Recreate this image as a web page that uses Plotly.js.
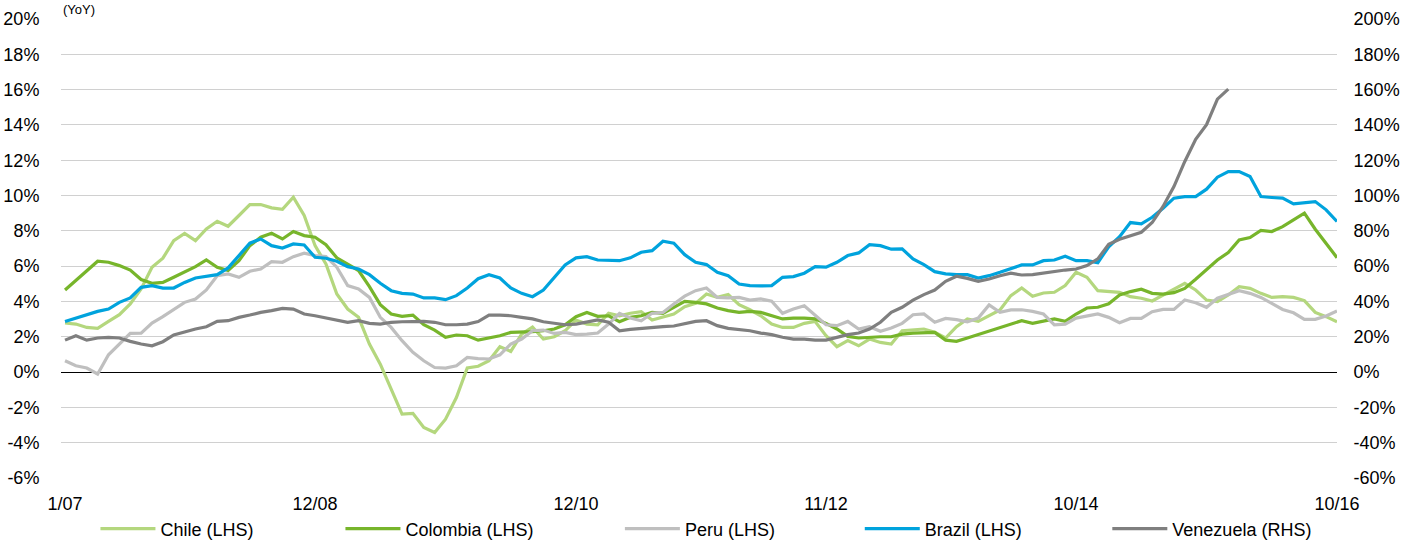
<!DOCTYPE html>
<html>
<head>
<meta charset="utf-8">
<script src="https://cdn.plot.ly/plotly-3.0.1.min.js"></script>
<style>
  html, body { margin: 0; padding: 0; background: #ffffff; }
  #chart { width: 1419px; height: 543px; }
</style>
</head>
<body>
<div id="chart"></div>
<script>
// ---------- Data (monthly, 1/07 .. 10/16) ----------
const startYear = 2007;
const startMonth = 1;
const monthCount = 118;

const tickLabels = ["1/07", "12/08", "12/10", "11/12", "10/14", "10/16"];
const leftTicks = [-6, -4, -2, 0, 2, 4, 6, 8, 10, 12, 14, 16, 18, 20];
const leftTickText = ["-6%", "-4%", "-2%", "0%", "2%", "4%", "6%", "8%", "10%", "12%", "14%", "16%", "18%", "20%"];
const rightTicks = [-60, -40, -20, 0, 20, 40, 60, 80, 100, 120, 140, 160, 180, 200];
const rightTickText = ["-60%", "-40%", "-20%", "0%", "20%", "40%", "60%", "80%", "100%", "120%", "140%", "160%", "180%", "200%"];

const chile = [2.78,2.72,2.53,2.48,2.87,3.25,3.86,4.71,5.94,6.45,7.45,7.86,7.45,8.11,8.54,8.26,8.87,9.49,9.49,9.3,
  9.22,9.9,8.87,7.16,6.12,4.42,3.57,3.1,1.59,0.45,-0.96,-2.38,-2.34,-3.14,-3.42,-2.67,-1.44,0.23,0.33,0.64,
  1.44,1.17,2.15,2.55,1.87,2.0,2.34,2.95,2.72,2.68,3.33,3.19,3.33,3.42,2.95,3.14,3.29,3.7,3.89,4.42,
  4.23,4.39,3.82,3.53,3.19,2.72,2.53,2.53,2.76,2.87,2.06,1.44,1.78,1.49,1.87,1.68,1.59,2.34,2.38,2.44,
  2.25,1.93,2.57,3.01,2.87,3.19,3.52,4.33,4.76,4.29,4.48,4.52,4.9,5.65,5.37,4.61,4.55,4.52,4.27,4.18,
  4.03,4.37,4.69,5.03,4.65,4.08,3.99,4.37,4.84,4.74,4.46,4.23,4.27,4.23,4.05,3.38,3.14,2.85];

const colombia = [4.65,5.18,5.75,6.28,6.22,6.03,5.78,5.24,5.03,5.08,5.37,5.65,5.97,6.35,5.94,5.75,6.31,7.16,7.64,7.86,
  7.54,7.96,7.73,7.64,7.22,6.47,6.12,5.75,4.84,3.82,3.29,3.16,3.23,2.68,2.38,1.97,2.1,2.06,1.81,1.93,
  2.06,2.25,2.25,2.29,2.34,2.44,2.68,3.14,3.38,3.16,3.19,2.85,3.1,3.19,3.38,3.33,3.67,4.01,3.95,3.86,
  3.63,3.48,3.38,3.44,3.38,3.19,3.01,3.06,3.06,3.01,2.76,2.44,2.02,1.93,1.97,2.0,2.0,2.15,2.21,2.25,
  2.25,1.81,1.74,1.93,2.12,2.31,2.53,2.72,2.91,2.76,2.87,3.01,2.87,3.29,3.63,3.67,3.87,4.37,4.56,4.69,
  4.46,4.42,4.5,4.74,5.26,5.82,6.35,6.77,7.49,7.62,8.02,7.96,8.24,8.62,9.0,8.09,7.3,6.48];

const peru = [0.64,0.36,0.23,-0.11,0.98,1.59,2.19,2.21,2.78,3.14,3.57,3.95,4.14,4.65,5.46,5.56,5.37,5.71,5.84,6.26,
  6.22,6.54,6.73,6.6,6.54,5.94,4.9,4.71,4.23,3.1,2.53,1.78,1.12,0.64,0.26,0.23,0.36,0.83,0.76,0.74,
  0.98,1.59,1.87,2.34,2.38,2.19,2.25,2.12,2.15,2.21,2.72,3.33,3.06,2.91,3.33,3.38,3.86,4.3,4.61,4.76,
  4.23,4.2,4.23,4.08,4.14,4.01,3.33,3.57,3.76,3.19,2.68,2.63,2.87,2.44,2.57,2.31,2.5,2.76,3.25,3.29,
  2.82,3.04,2.97,2.85,3.06,3.8,3.38,3.52,3.53,3.44,3.29,2.67,2.72,3.06,3.19,3.29,3.1,2.8,3.04,3.04,
  3.42,3.55,3.55,4.08,3.93,3.67,4.18,4.4,4.61,4.46,4.23,3.89,3.55,3.36,2.99,2.99,3.18,3.46];

const brazil = [2.87,3.06,3.29,3.44,3.57,3.95,4.2,4.8,4.9,4.76,4.76,5.08,5.33,5.43,5.52,5.9,6.6,7.3,7.54,7.16,
  7.03,7.26,7.2,6.5,6.45,6.28,5.97,5.84,5.52,5.03,4.61,4.46,4.42,4.2,4.2,4.1,4.33,4.76,5.29,5.52,
  5.33,4.76,4.46,4.27,4.65,5.37,6.07,6.47,6.54,6.35,6.31,6.31,6.47,6.79,6.88,7.41,7.3,6.65,6.22,6.09,
  5.65,5.46,4.99,4.9,4.88,4.9,5.37,5.41,5.6,5.97,5.94,6.22,6.6,6.75,7.22,7.16,6.96,6.98,6.41,6.09,
  5.69,5.56,5.52,5.52,5.33,5.46,5.65,5.84,6.07,6.07,6.31,6.35,6.56,6.31,6.31,6.2,7.1,7.67,8.47,8.39,
  8.77,9.28,9.85,9.94,9.94,10.36,11.04,11.36,11.36,11.08,9.94,9.89,9.85,9.53,9.6,9.66,9.19,8.53];

// Venezuela on right-hand scale (%)
const venezuela = [18.1,20.6,18.1,19.3,19.7,19.3,17.4,15.9,14.9,17.2,21.0,22.9,24.4,25.7,28.7,29.1,31.0,32.3,33.8,34.8,
  36.1,35.7,32.9,31.9,30.6,29.5,28.2,29.1,27.6,27.2,28.2,28.5,28.7,28.7,28.2,26.8,26.8,27.2,28.6,32.3,
  32.3,31.9,31.0,30.1,28.5,27.6,26.8,27.2,28.5,29.5,28.2,23.4,24.2,24.8,25.3,25.7,26.1,27.6,28.7,29.1,
  26.3,24.8,24.0,23.4,22.1,21.2,19.7,18.7,18.7,18.1,18.1,19.7,21.2,22.1,24.4,28.2,33.8,36.7,40.8,43.9,
  46.5,51.4,54.3,53.1,51.4,52.7,54.6,56.0,55.0,55.2,56.1,57.1,57.8,58.4,60.3,64.1,72.4,75.2,77.3,79.2,
  84.7,93.8,105.1,119.3,131.9,140.1,154.6,160.3];

// ---------- Categories (month labels like "1/07") ----------
const months = [];
for (let k = 0; k < monthCount; k++) {
  const m = (startMonth - 1 + k) % 12 + 1;
  const y = startYear + Math.floor((startMonth - 1 + k) / 12);
  months.push(m + "/" + String(y % 100).padStart(2, "0"));
}

// ---------- Styling ----------
const FONT = "Arial, 'Liberation Sans', sans-serif";
const series = [
  {name: "Chile (LHS)",     y: chile,     color: "#B4D77E", axis: "y",  legend: "legend"},
  {name: "Colombia (LHS)",  y: colombia,  color: "#77B52B", axis: "y",  legend: "legend2"},
  {name: "Peru (LHS)",      y: peru,      color: "#BFBFBF", axis: "y",  legend: "legend3"},
  {name: "Brazil (LHS)",    y: brazil,    color: "#00A3DD", axis: "y",  legend: "legend4"},
  {name: "Venezuela (RHS)", y: venezuela, color: "#7F7F7F", axis: "y2", legend: "legend5"}
];

const traces = series.map(s => ({
  type: "scatter",
  mode: "lines",
  name: s.name,
  x: months.slice(0, s.y.length),
  y: s.y,
  yaxis: s.axis,
  legend: s.legend,
  line: {color: s.color, width: 3.2},
  hoverinfo: "skip"
}));

// legend item starting positions (paper fractions)
const legendX = [0.027, 0.219, 0.438, 0.626, 0.820];
function legendDef(x) {
  return {
    orientation: "h", x: x, xanchor: "left", y: -0.111, yanchor: "middle",
    font: {family: FONT, size: 18, color: "#000000"},
    bgcolor: "rgba(0,0,0,0)", borderwidth: 0, itemwidth: 55
  };
}

const layout = {
  width: 1419,
  height: 543,
  margin: {l: 61, r: 82, t: 19, b: 65, pad: 0, autoexpand: false},
  paper_bgcolor: "#ffffff",
  plot_bgcolor: "#ffffff",
  font: {family: FONT, size: 18, color: "#000000"},
  showlegend: true,
  legend: legendDef(legendX[0]),
  legend2: legendDef(legendX[1]),
  legend3: legendDef(legendX[2]),
  legend4: legendDef(legendX[3]),
  legend5: legendDef(legendX[4]),
  xaxis: {
    type: "category",
    categoryorder: "array",
    categoryarray: months,
    range: [-0.37, 117],
    tickvals: tickLabels,
    ticktext: tickLabels,
    showgrid: false,
    zeroline: false,
    showline: false,
    ticks: "outside",
    ticklen: 9,
    tickcolor: "rgba(0,0,0,0)",
    tickfont: {family: FONT, size: 18, color: "#000000"},
    automargin: false,
    fixedrange: true
  },
  yaxis: {
    range: [-6, 20],
    tickvals: leftTicks,
    ticktext: leftTickText,
    showgrid: true,
    gridcolor: "#D0D0D0",
    gridwidth: 1,
    zeroline: true,
    zerolinecolor: "#000000",
    zerolinewidth: 1,
    showline: false,
    ticks: "outside",
    ticklen: 17,
    tickcolor: "rgba(0,0,0,0)",
    tickfont: {family: FONT, size: 18, color: "#000000"},
    automargin: false,
    fixedrange: true
  },
  yaxis2: {
    overlaying: "y",
    side: "right",
    range: [-60, 200],
    tickvals: rightTicks,
    ticktext: rightTickText,
    showgrid: false,
    zeroline: false,
    showline: false,
    ticks: "outside",
    ticklen: 12,
    tickcolor: "rgba(0,0,0,0)",
    tickfont: {family: FONT, size: 18, color: "#000000"},
    automargin: false,
    fixedrange: true
  },
  annotations: [{
    xref: "paper", yref: "paper", x: 0, y: 1.0, xanchor: "left", yanchor: "bottom",
    text: "(YoY)", showarrow: false, font: {family: FONT, size: 13, color: "#000000"}
  }]
};

Plotly.newPlot("chart", traces, layout, {displayModeBar: false, staticPlot: true});
</script>
</body>
</html>
